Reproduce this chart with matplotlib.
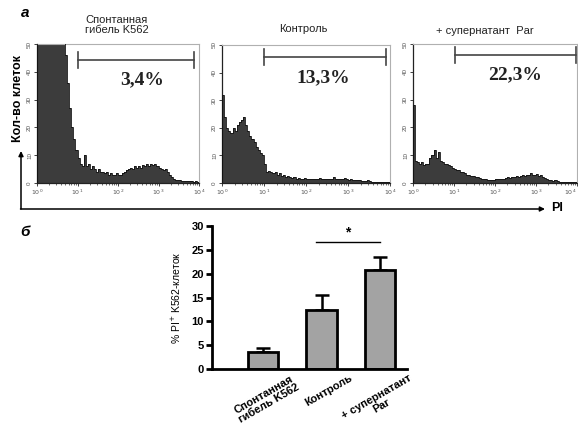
import numpy as np
import matplotlib
matplotlib.use("Agg")
import matplotlib.pyplot as plt
import matplotlib.transforms as mtransforms

plt.rcParams['font.family'] = ['Liberation Sans', 'DejaVu Sans']

W, H = 578, 430

# ---------------- data ----------------
hist_titles = ["Спонтанная\nгибель K562", "Контроль", "+ супернатант  Par"]
gate_labels = ["3,4%", "13,3%", "22,3%"]

# counts per bin, bins evenly spaced in log10(PI) from 10^0 to 10^4
counts_spont = [62, 70, 75, 72, 68, 64, 60, 58, 57, 55, 54, 53, 52, 51,
                46, 36, 27, 20, 16, 12, 9, 7, 6, 10, 6, 7, 5, 6, 5, 4,
                5, 4, 4, 3.5, 4, 3, 3.5, 3, 3, 3.5, 3, 3, 3.5, 4, 4.5, 5,
                5.5, 5, 6, 5.5, 6, 5.5, 6.5, 6, 7, 6, 7, 6.5, 7, 6,
                5.5, 5, 4.5, 5, 4, 3, 2, 1.5, 1, 1, 1, 0.8,
                0.8, 0.7, 0.8, 0.6, 0.7, 0.5, 0.6, 0.5]
counts_control = [32, 24, 20, 19, 18, 20, 19, 21, 22, 23, 24, 21, 19, 17, 16,
                  15, 13, 12, 11, 10, 7, 4, 4.5, 4, 3.5, 4, 3, 3.5, 2.5, 3,
                  2, 2.5, 2, 1.8, 2, 1.5, 1.8, 1.5, 1.6, 1.8, 1.5, 1.4, 1.6,
                  1.5, 1.3, 1.5, 1.8, 1.4, 1.5, 1.3, 1.6, 1.5, 1.4, 2.0, 1.5,
                  1.3, 1.6, 1.4, 1.8, 1.5, 1.2, 1.3, 1.0, 1.2, 1.0, 1.1, 0.8,
                  0.9, 0.7, 1.0, 0.6, 0.5, 0.5, 0.4, 0.5, 0.3, 0.4, 0.3, 0.3, 0.2]
counts_par = [28, 8, 7.5, 7, 7.5, 6.5, 7, 7, 9, 10, 12, 9, 11, 8, 7.5,
              7, 7, 6.5, 6, 5.5, 5, 4.5, 4.5, 4, 4, 3.5, 3, 3, 2.5, 2.5,
              2, 2, 1.8, 1.5, 1.5, 1.3, 1.2, 1.2, 1.0, 1.2, 1.3, 1.5, 1.4,
              1.6, 1.5, 1.8, 2.0, 1.8, 2.2, 2.0, 2.5, 2.2, 2.5, 2.8, 2.5,
              3.0, 2.8, 3.5, 3.0, 2.8, 3.2, 2.5, 2.8, 2.0, 1.8, 1.5, 1.2,
              1.0, 0.8, 1.0, 0.6, 0.5, 0.4, 0.4, 0.3, 0.3, 0.3, 0.2, 0.2, 0.2]
hist_counts = [counts_spont, counts_control, counts_par]

bar_categories = ["Спонтанная\nгибель K562", "Контроль", "+ супернатант\nPar"]
bar_values = [3.6, 12.4, 20.8]
bar_errors = [0.8, 3.1, 2.8]
decade_labels = [r"$10^{0}$", r"$10^{1}$", r"$10^{2}$", r"$10^{3}$", r"$10^{4}$"]

fig = plt.figure(figsize=(W / 100, H / 100), dpi=100)
fig.patch.set_facecolor('white')


def rect(l, t, r, b):
    return [l / W, 1 - b / H, (r - l) / W, (b - t) / H]


def ftext(x, y, s, **kw):
    fig.text(x / W, 1 - y / H, s, **kw)


panels = [(37, 44, 199, 183), (222, 45, 390, 183), (413, 44, 577, 183)]
gate_y = [44.2, 45.6, 46.0]
gate_ends = [(1.0, 3.88), (1.0, 3.9), (1.03, 3.98)]
gate_text = [(2.6, 37), (2.4, 38), (2.5, 39)]
title_pos = [(117, 25), (303, 29), (485, 31)]

for i, (l, t, r, b) in enumerate(panels):
    ax = fig.add_axes(rect(l, t, r, b))
    c = np.array(hist_counts[i], dtype=float)
    edges = np.linspace(0, 4, len(c) + 1)
    ax.stairs(c, edges, fill=True, color='#3c3c3c', zorder=2)
    ax.stairs(c, edges, color='#111111', lw=0.6, zorder=3)
    ax.set_xlim(0, 4)
    ax.set_ylim(0, 50)
    ax.set_xticks(range(5))
    ax.set_xticklabels(decade_labels, fontsize=4.5, color='#555555')
    if i == 2:
        ax.get_xticklabels()[-1].set_horizontalalignment('right')
    ax.set_yticks(range(0, 51, 10))
    ax.set_yticklabels([str(v) for v in range(0, 51, 10)], fontsize=4.5,
                       color='#555555', rotation=90, va='center')
    ax.tick_params(axis='both', length=2, width=0.6, pad=1.5, colors='#222222',
                   labelcolor='#555555')
    ax.xaxis.set_minor_locator(matplotlib.ticker.FixedLocator(
        [d + np.log10(k) for d in range(4) for k in range(2, 10)]))
    ax.tick_params(axis='x', which='minor', length=1.2, width=0.4)
    for s in ['top', 'right']:
        ax.spines[s].set_color('#b0b0b0')
        ax.spines[s].set_linewidth(0.8)
    for s in ['left', 'bottom']:
        ax.spines[s].set_color('#222222')
        ax.spines[s].set_linewidth(0.9)
    # gate
    gy = gate_y[i]
    g0, g1 = gate_ends[i]
    ax.plot([g0, g1], [gy, gy], color='#444444', lw=1.2, clip_on=False)
    for gx in (g0, g1):
        ax.plot([gx, gx], [gy - 3, gy + 3], color='#444444', lw=1.2, clip_on=False)
    ax.text(gate_text[i][0], gate_text[i][1], gate_labels[i],
            family='Liberation Serif', fontweight='bold', fontsize=14,
            ha='center', va='center', color='#222222')
    ftext(title_pos[i][0], title_pos[i][1], hist_titles[i], fontsize=8,
          ha='center', va='center', color='#222222', linespacing=1.05)

# panel labels and axis arrows
ftext(25, 13, "а", fontsize=11, fontweight='bold', style='italic', ha='center', va='center')
ftext(25, 232, "б", fontsize=11, fontweight='bold', style='italic', ha='center', va='center')
ftext(18, 98, "Кол-во клеток", fontsize=9, fontweight='bold', rotation=90,
      ha='center', va='center')
ftext(551, 208, "PI", fontsize=9, fontweight='bold', ha='left', va='center')

arr_ax = fig.add_axes([0, 0, 1, 1], zorder=-1)
arr_ax.set_xlim(0, W)
arr_ax.set_ylim(H, 0)
arr_ax.axis('off')
arr_ax.annotate("", xy=(21, 151), xytext=(21, 209),
                arrowprops=dict(arrowstyle='-|>', lw=1.1, color='black',
                                mutation_scale=7, shrinkA=0, shrinkB=0))
arr_ax.annotate("", xy=(545, 209), xytext=(20.5, 209),
                arrowprops=dict(arrowstyle='-|>', lw=1.1, color='black',
                                mutation_scale=7, shrinkA=0, shrinkB=0))

# ---------------- bar chart ----------------
bx = fig.add_axes(rect(212, 226, 407, 369))
xpos = np.arange(len(bar_values))
bx.bar(xpos, bar_values, width=0.52, color='#a3a3a3', edgecolor='black',
       linewidth=2, zorder=2)
bx.errorbar(xpos, bar_values, yerr=[np.zeros(len(bar_errors)), bar_errors],
            fmt='none', ecolor='black', elinewidth=1.8, capsize=5, capthick=1.8,
            zorder=1)
bx.set_xlim(-0.87, 2.46)
bx.set_ylim(0, 30)
bx.set_yticks(range(0, 31, 5))
bx.set_yticklabels([str(v) for v in range(0, 31, 5)], fontsize=8, fontweight='bold')
bx.set_xticks(xpos)
bx.set_xticklabels([])
shift = mtransforms.ScaledTranslation(28 / 100, -4 / 100, fig.dpi_scale_trans)
lab_tr = bx.get_xaxis_transform() + shift
for xp, cat in zip(xpos, bar_categories):
    bx.text(xp, 0, cat, transform=lab_tr, rotation=30, ha='right', va='top',
            rotation_mode='anchor', multialignment='center', fontsize=8,
            fontweight='bold', linespacing=1.0, clip_on=False)
bx.tick_params(axis='y', length=4, width=2, pad=2)
bx.tick_params(axis='x', length=0, pad=3)
for s in ['top', 'right']:
    bx.spines[s].set_visible(False)
for s in ['left', 'bottom']:
    bx.spines[s].set_linewidth(2)
bx.set_ylabel("% PI$^{+}$ K562-клеток", fontsize=7.5, labelpad=6)
bx.plot([0.9, 2.0], [26.6, 26.6], color='black', lw=1.0, clip_on=False)
bx.text(1.45, 28.6, "*", fontsize=10, fontweight='bold', ha='center', va='center')

fig.savefig("out.png", dpi=100, facecolor='white')
